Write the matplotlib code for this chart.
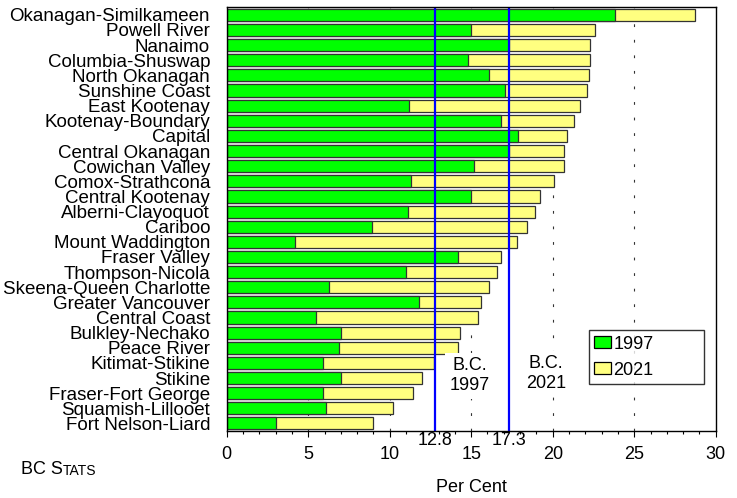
import matplotlib
matplotlib.use("Agg")
import matplotlib.pyplot as plt
from matplotlib.ticker import MultipleLocator

plt.rcParams['font.family'] = ['Liberation Sans', 'DejaVu Sans']

regions = ["Okanagan-Similkameen", "Powell River", "Nanaimo", "Columbia-Shuswap",
           "North Okanagan", "Sunshine Coast", "East Kootenay", "Kootenay-Boundary",
           "Capital", "Central Okanagan", "Cowichan Valley", "Comox-Strathcona",
           "Central Kootenay", "Alberni-Clayoquot", "Cariboo", "Mount Waddington",
           "Fraser Valley", "Thompson-Nicola", "Skeena-Queen Charlotte",
           "Greater Vancouver", "Central Coast", "Bulkley-Nechako", "Peace River",
           "Kitimat-Stikine", "Stikine", "Fraser-Fort George", "Squamish-Lillooet",
           "Fort Nelson-Liard"]
pct_1997 = [23.8, 15.0, 17.3, 14.8, 16.1, 17.1, 11.2, 16.8, 17.9, 17.3, 15.2, 11.3,
            15.0, 11.1, 8.9, 4.2, 14.2, 11.0, 6.3, 11.8, 5.5, 7.0, 6.9, 5.9, 7.0,
            5.9, 6.1, 3.0]
pct_2021 = [28.7, 22.6, 22.3, 22.3, 22.2, 22.1, 21.7, 21.3, 20.9, 20.7, 20.7, 20.1,
            19.2, 18.9, 18.4, 17.8, 16.8, 16.6, 16.1, 15.6, 15.4, 14.3, 14.2, 12.7,
            12.0, 11.4, 10.2, 9.0]
years = ["1997", "2021"]
bc_avg = [12.8, 17.3]

GREEN = "#00FF00"
YELLOW = "#FFFF80"
FS = 13

fig = plt.figure(figsize=(7.37, 4.98), dpi=100)
ax = fig.add_axes([226.7 / 737, 1 - 431 / 498, 489 / 737, (431 - 7.3) / 498])

ypos = list(range(len(regions)))
b21 = ax.barh(ypos, pct_2021, height=0.8, color=YELLOW, edgecolor="#333333", linewidth=0.9, zorder=2)
b97 = ax.barh(ypos, pct_1997, height=0.8, color=GREEN, edgecolor="#333333", linewidth=0.9, zorder=3)

ax.set_xlim(0, 30)
ax.set_ylim(len(regions) - 0.5, -0.5)
ax.set_yticks(ypos)
ax.set_yticklabels(regions, fontsize=13.5)
ax.tick_params(axis='y', length=0, pad=12)

ax.xaxis.set_major_locator(MultipleLocator(5))
ax.xaxis.set_minor_locator(MultipleLocator(1))
ax.tick_params(axis='x', which='major', direction='out', length=4.5, width=0.8, pad=6, labelsize=FS)
ax.tick_params(axis='x', which='minor', direction='out', length=2.4, width=0.8)

for g in [5, 10, 15, 20, 25]:
    ax.axvline(g, color="#333333", linewidth=0.8, linestyle=(0, (2.5, 11.5)), zorder=1)

for s in ax.spines.values():
    s.set_color("black")
    s.set_linewidth(1.0)
    s.set_zorder(6)

for yr, val in zip(years, bc_avg):
    ax.axvline(val, color="#0000FF", linewidth=1.6, zorder=5)
    ax.annotate(f"{val}", xy=(val, 0), xycoords=ax.get_xaxis_transform(),
                xytext=(0, -1), textcoords="offset points", ha="center", va="top",
                fontsize=FS, annotation_clip=False)

ax.text(14.93, 23.85, "B.C.\n" + years[0], ha="center", va="center", fontsize=FS, zorder=4,
        bbox=dict(boxstyle="square,pad=0.25", facecolor="white", edgecolor="none"))
ax.text(19.6, 23.7, "B.C.\n" + years[1], ha="center", va="center", fontsize=FS, zorder=4,
        bbox=dict(boxstyle="square,pad=0.25", facecolor="white", edgecolor="none"))

leg = ax.legend([b97, b21], years,
                loc="lower left", bbox_to_anchor=(0.741, 0.111, 0.235, 0.123), mode="expand",
                borderaxespad=0, fontsize=FS, frameon=True, fancybox=False, shadow=False,
                handlelength=0.9, handleheight=0.6, handletextpad=0.15, labelspacing=0.5,
                borderpad=0.3)
leg.get_frame().set_edgecolor("black")
leg.get_frame().set_linewidth(1.0)
leg.set_zorder(7)
for h in leg.legend_handles:
    h.set_edgecolor("black")

ax.set_xlabel("Per Cent", fontsize=FS, labelpad=12)

t1 = fig.text(20.7 / 737, 1 - 474 / 498, "BC S", fontsize=FS, va="baseline", ha="left")
fig.canvas.draw()
ax.annotate("TATS", xy=(1, 0), xycoords=t1, fontsize=10, va="bottom", ha="left",
            annotation_clip=False)

fig.savefig("out.png", dpi=100)
